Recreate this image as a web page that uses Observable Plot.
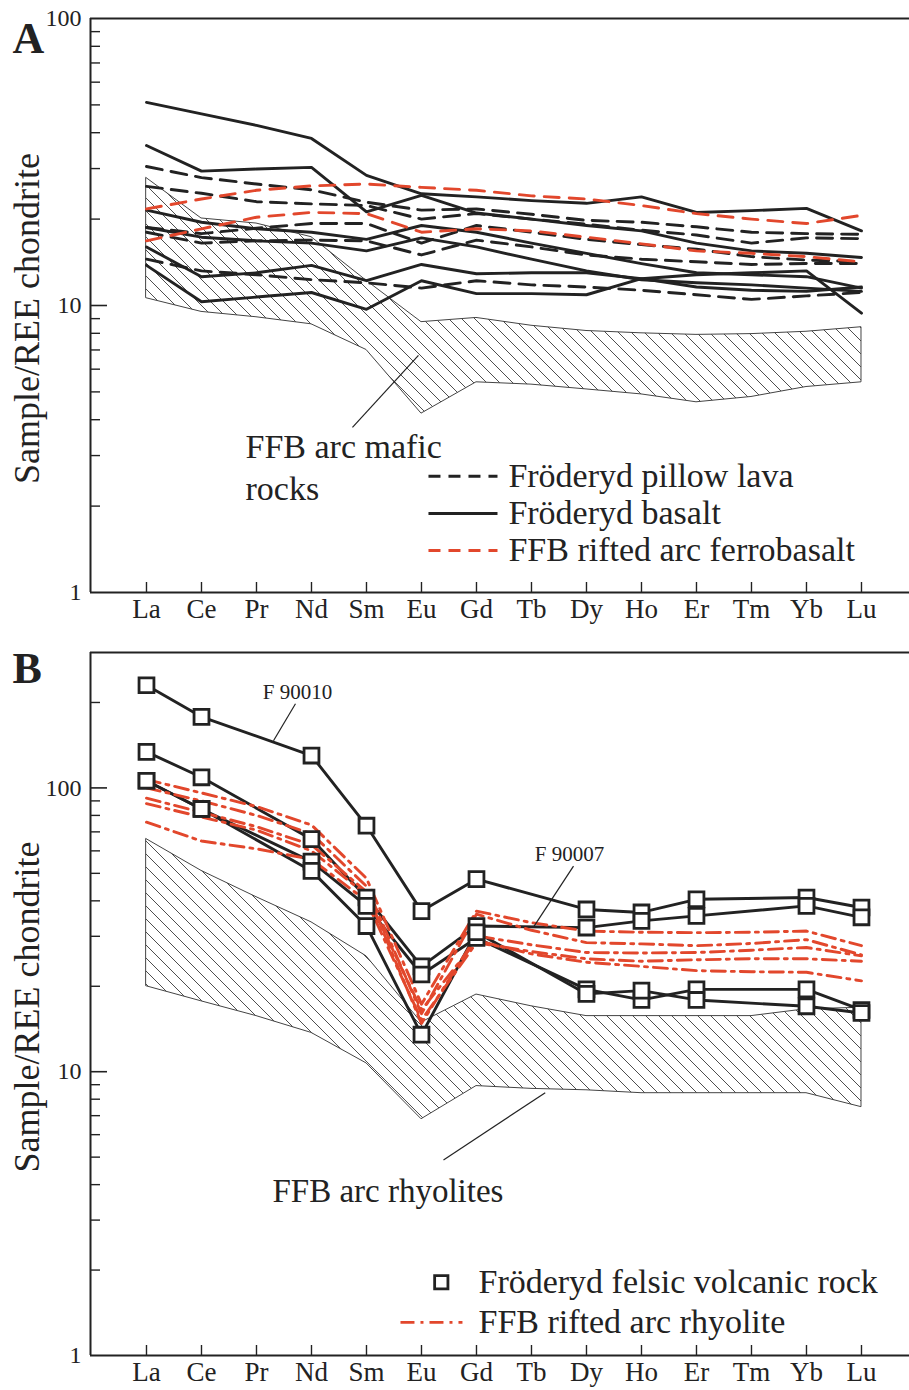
<!DOCTYPE html>
<html>
<head>
<meta charset="utf-8">
<script src="https://cdn.jsdelivr.net/npm/d3@7"></script>
<script src="https://cdn.jsdelivr.net/npm/@observablehq/plot@0.6"></script>
<style>
  html, body { margin: 0; padding: 0; background: #fff; }
  #chart { width: 909px; }
  #chart svg { display: block; }
</style>
</head>
<body>
<div id="chart"></div>
<script>
// ---------- categories ----------
const elements = ["La","Ce","Pr","Nd","Sm","Eu","Gd","Tb","Dy","Ho","Er","Tm","Yb","Lu"];
const felsicElements = ["La","Ce","Nd","Sm","Eu","Gd","Dy","Ho","Er","Yb","Lu"];

// ---------- panel A values (chondrite-normalised) ----------
const pillowLava = [
  [30.5, 27.9, 26.5, 25.3, 22.9, 21.5, 21.7, 20.8, 19.8, 19.5, 18.8, 18.0, 17.8, 17.7],
  [26.0, 24.6, 23.0, 22.6, 22.3, 20.0, 20.9, 20.0, 19.2, 18.3, 17.6, 16.5, 17.2, 17.1],
  [18.7, 17.8, 18.6, 19.3, 19.3, 16.5, 19.0, 18.0, 17.0, 16.3, 15.7, 14.8, 14.4, 14.2],
  [18.0, 16.5, 16.8, 16.9, 16.8, 15.0, 16.9, 16.0, 15.0, 14.5, 14.2, 13.9, 14.0, 14.0],
  [14.5, 13.2, 12.8, 12.3, 12.0, 11.5, 12.2, 11.8, 11.6, 11.3, 10.9, 10.5, 10.8, 11.1]
];
const basalt = [
  [51.0, 46.5, 42.4, 38.2, 28.4, 24.5, 23.9, 23.2, 22.7, 23.9, 21.1, 21.4, 21.8, 18.2],
  [36.1, 29.4, 29.9, 30.3, 21.2, 24.2, 21.0, 20.0, 19.0, 18.2, 16.5, 15.5, 15.2, 14.7],
  [21.5, 19.5, 18.5, 18.0, 17.0, 19.0, 18.0, 16.5, 15.2, 14.0, 13.0, 12.8, 12.6, 11.5],
  [18.7, 17.3, 16.8, 16.5, 15.5, 17.2, 16.0, 14.5, 13.2, 12.3, 12.0, 11.8, 11.5, 11.2],
  [16.0, 12.6, 13.0, 13.8, 12.2, 13.9, 12.9, 13.0, 13.0, 12.4, 12.8, 13.0, 13.2, 9.4],
  [13.8, 10.3, 10.7, 11.1, 9.7, 12.2, 11.0, 11.0, 10.9, 12.4, 11.6, 11.3, 11.2, 11.6]
];
const ferrobasalt = [
  [21.7, 23.5, 25.2, 26.1, 26.5, 25.8, 25.2, 24.1, 23.5, 22.3, 20.9, 20.0, 19.3, 20.6],
  [16.8, 18.5, 20.3, 21.1, 20.9, 18.0, 18.5, 18.2, 17.3, 16.4, 15.5, 15.2, 14.8, 14.2]
];
const maficHigh = [27.8, 20.1, 19.3, 17.3, 12.2, 8.75, 9.05, 8.5, 8.15, 8.0, 7.9, 7.95, 8.1, 8.4];
const maficLow  = [10.6, 9.5, 9.1, 8.6, 7.0, 4.2, 5.4, 5.3, 5.1, 4.9, 4.6, 4.8, 5.2, 5.4];

// ---------- panel B values ----------
const felsicRock = [
  [230, 178, 130, 73.6, 36.8, 47.7, 37.3, 36.4, 40.5, 41.1, 37.9],   // F 90010
  [134, 109, 66, 41.1, 23.5, 32.6, 32.2, 34.0, 35.4, 38.4, 35.0],    // F 90007
  [106, 84.3, 55, 38.4, 22.0, 29.6, 19.5, 17.9, 19.5, 19.5, 16.5],
  [106, 84.3, 51, 32.6, 13.5, 31.0, 18.8, 19.3, 17.9, 17.0, 16.1]
];
const rhyolite = [
  [107, 96, 86, 74, 48, 17.3, 36.8, 33.5, 31.3, 31.0, 30.9, 31.0, 31.3, 27.8],
  [100, 90, 80, 69, 45, 16.0, 35.9, 31.5, 28.5, 28.2, 27.8, 28.3, 29.2, 25.8],
  [92, 82, 73, 63, 43, 14.8, 30.1, 28.0, 26.3, 26.2, 26.3, 26.8, 27.4, 25.6],
  [75.7, 65, 61, 56, 40, 15.2, 28.5, 26.5, 25.0, 24.5, 24.8, 25.0, 25.0, 24.5],
  [88, 79, 71, 60, 42, 16.5, 29.0, 26.0, 24.3, 23.5, 22.7, 22.5, 22.4, 20.9]
];
const rhyoliteHigh = [66, 51, 41.2, 33.6, 25.5, 14.9, 18.7, 17.0, 15.7, 15.7, 15.7, 15.7, 16.6, 16.8];
const rhyoliteLow  = [20.0, 17.7, 15.7, 13.7, 10.7, 6.8, 8.9, 8.7, 8.6, 8.4, 8.4, 8.4, 8.4, 7.5];

// ---------- axis ticks ----------
const yLabels = [1, 10, 100];
const minorA = [2,3,4,5,6,7,8,9,20,30,40,50,60,70,80,90];
const majorA = [10];
const minorB = [2,3,4,5,6,7,8,9,20,30,40,50,60,70,80,90,200];
const majorB = [10, 100];

// ---------- helpers ----------
const FONT = "'Liberation Serif','Times New Roman',serif";
const INK = "#222";
const RED = "#e2472c";
const W = 909, ML = 90, MR = 0;
const xDomain = [-1.018, 13.873];
const LW = 2.9;

function longRows(lines, els) {
  return lines.flatMap((vals, k) => vals.map((v, j) => ({x: elements.indexOf(els[j]), v, k})));
}
function bandRows(hi, lo) {
  return elements.map((e, j) => ({x: j, hi: hi[j], lo: lo[j]}));
}
function addHatch(svg, id) {
  const s = 13;
  d3.select(svg).insert("defs", ":first-child").html(
    `<pattern id="${id}" patternUnits="userSpaceOnUse" width="${s}" height="${s}">` +
    `<path d="M-2,-2L${s+2},${s+2}M-2,${s-2}L2,${s+2}M${s-2},-2L${s+2},2" stroke="#3a3a3a" stroke-width="0.9" fill="none"/></pattern>`
  );
}

function panel({height, marginTop, marginBottom, yDomain, majors, minors, marks, tag, tagDy, titleDy, hatchId}) {
  const plotW = W - ML - MR, plotH = height - marginTop - marginBottom;
  const svg = Plot.plot({
    width: W, height, marginLeft: ML, marginRight: MR, marginTop, marginBottom,
    x: {type: "linear", domain: xDomain},
    y: {type: "log", domain: yDomain},
    style: {fontFamily: FONT, color: INK, background: "white", overflow: "visible"},
    marks: [
      ...marks,
      Plot.tickY(minors, {y: d => d, insetRight: plotW - 10, stroke: INK, strokeWidth: 1.4}),
      Plot.tickY(majors, {y: d => d, insetRight: plotW - 17, stroke: INK, strokeWidth: 1.6}),
      Plot.tickX(d3.range(elements.length), {x: d => d, insetTop: plotH - 10, stroke: INK, strokeWidth: 1.4}),
      Plot.ruleY(yDomain, {stroke: INK, strokeWidth: 2}),
      Plot.ruleX([xDomain[0]], {stroke: INK, strokeWidth: 2}),
      Plot.axisX(d3.range(elements.length), {tickSize: 0, tickPadding: 6, tickFormat: i => elements[i], fontSize: 27, label: null}),
      Plot.axisY(yLabels, {tickSize: 0, tickPadding: 9, tickFormat: d => String(d), fontSize: 24, label: null}),
      Plot.text([tag], {frameAnchor: "top-left", dx: -78, dy: tagDy, text: d => d, fontSize: 44, fontWeight: "bold", textAnchor: "start", lineAnchor: "middle"}),
      Plot.text(["Sample/REE chondrite"], {frameAnchor: "left", dx: -63, dy: titleDy, rotate: -90, text: d => d, fontSize: 36, textAnchor: "middle", lineAnchor: "middle"})
    ]
  });
  addHatch(svg, hatchId);
  return svg;
}

// ---------- panel A ----------
const legendA = [
  {x1: 5.127, x2: 6.382, y: 2.54, label: "Fröderyd pillow lava", stroke: INK, dash: true},
  {x1: 5.127, x2: 6.382, y: 1.885, label: "Fröderyd basalt", stroke: INK, dash: false},
  {x1: 5.127, x2: 6.382, y: 1.40, label: "FFB rifted arc ferrobasalt", stroke: RED, dash: true}
];
const svgA = panel({
  height: 630, marginTop: 18, marginBottom: 38, yDomain: [1, 100],
  majors: majorA, minors: minorA, tag: "A", tagDy: 20, titleDy: 13, hatchId: "hatchA",
  marks: [
    Plot.areaY(bandRows(maficHigh, maficLow), {x: "x", y1: "lo", y2: "hi", fill: "url(#hatchA)", stroke: "#444", strokeWidth: 1}),
    Plot.line(longRows(basalt, elements), {x: "x", y: "v", z: "k", stroke: INK, strokeWidth: LW}),
    Plot.line(longRows(pillowLava, elements), {x: "x", y: "v", z: "k", stroke: INK, strokeWidth: LW, strokeDasharray: "16,9"}),
    Plot.line(longRows(ferrobasalt, elements), {x: "x", y: "v", z: "k", stroke: RED, strokeWidth: LW, strokeDasharray: "15,10"}),
    Plot.link([{x1: 3.745, y1: 3.76, x2: 4.945, y2: 6.7}], {x1: "x1", y1: "y1", x2: "x2", y2: "y2", stroke: INK, strokeWidth: 1.2}),
    Plot.text([{x: 1.8, y: 3.2, t: "FFB arc mafic"}, {x: 1.8, y: 2.3, t: "rocks"}], {x: "x", y: "y", text: "t", textAnchor: "start", fontSize: 34}),
    Plot.link(legendA.filter(d => d.dash), {x1: "x1", x2: "x2", y1: "y", y2: "y", stroke: "stroke", strokeWidth: LW, strokeDasharray: "12,8"}),
    Plot.link(legendA.filter(d => !d.dash), {x1: "x1", x2: "x2", y1: "y", y2: "y", stroke: "stroke", strokeWidth: LW}),
    Plot.text(legendA, {x: 6.58, y: "y", text: "label", textAnchor: "start", fontSize: 34})
  ]
});

// ---------- panel B ----------
const svgB = panel({
  height: 760, marginTop: 22, marginBottom: 35, yDomain: [1, 300],
  majors: majorB, minors: minorB, tag: "B", tagDy: 16, titleDy: 3, hatchId: "hatchB",
  marks: [
    Plot.areaY(bandRows(rhyoliteHigh, rhyoliteLow), {x: "x", y1: "lo", y2: "hi", fill: "url(#hatchB)", stroke: "#444", strokeWidth: 1}),
    Plot.line(longRows(felsicRock, felsicElements), {x: "x", y: "v", z: "k", stroke: INK, strokeWidth: LW}),
    Plot.line(longRows(rhyolite, elements), {x: "x", y: "v", z: "k", stroke: RED, strokeWidth: LW, strokeDasharray: "14,6,3,6"}),
    Plot.dot(longRows(felsicRock, felsicElements), {x: "x", y: "v", symbol: "square", r: 8.4, fill: "white", stroke: INK, strokeWidth: 2.8}),
    Plot.link([
      {x1: 2.309, y1: 146.6, x2: 2.709, y2: 198},
      {x1: 7.036, y1: 32.3, x2: 7.764, y2: 53},
      {x1: 5.4, y1: 4.89, x2: 7.25, y2: 8.43}
    ], {x1: "x1", y1: "y1", x2: "x2", y2: "y2", stroke: INK, strokeWidth: 1.2}),
    Plot.text([{x: 2.745, y: 218, t: "F 90010"}, {x: 7.69, y: 58.4, t: "F 90007"}], {x: "x", y: "y", text: "t", fontSize: 21}),
    Plot.text([{x: 2.29, y: 3.77, t: "FFB arc rhyolites"}], {x: "x", y: "y", text: "t", textAnchor: "start", fontSize: 33}),
    Plot.dot([{x: 5.36, y: 1.811}], {x: "x", y: "y", symbol: "square", r: 7.5, fill: "white", stroke: INK, strokeWidth: 2.8}),
    Plot.link([{x1: 4.618, x2: 5.745, y: 1.308}], {x1: "x1", x2: "x2", y1: "y", y2: "y", stroke: RED, strokeWidth: LW, strokeDasharray: "14,6,3,6"}),
    Plot.text([{y: 1.811, t: "Fröderyd felsic volcanic rock"}, {y: 1.308, t: "FFB rifted arc rhyolite"}], {x: 6.036, y: "y", text: "t", textAnchor: "start", fontSize: 34})
  ]
});

document.getElementById("chart").append(svgA, svgB);
</script>
</body>
</html>
